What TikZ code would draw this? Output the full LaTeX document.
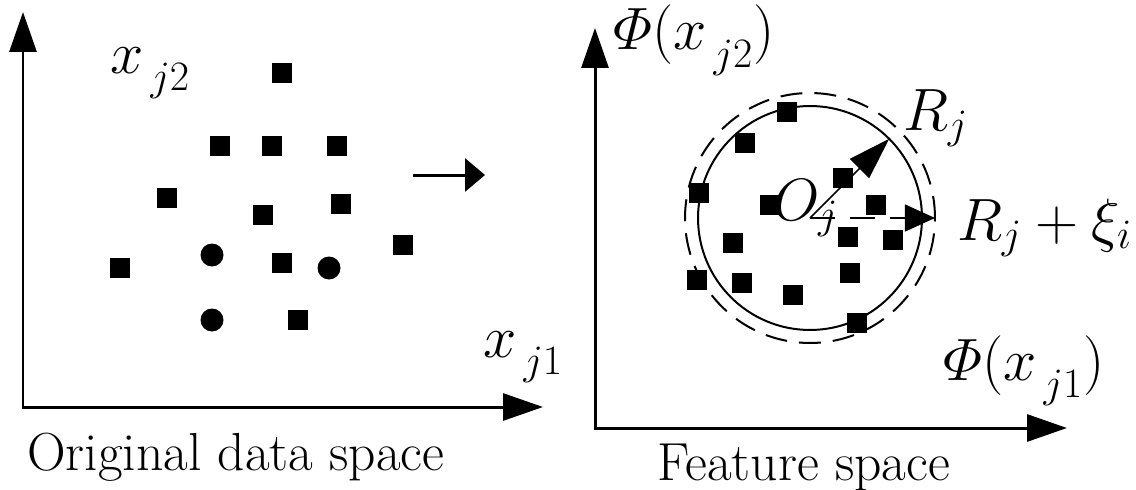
\documentclass[tikz,border=0pt]{standalone}
\usepackage{fix-cm}
\usepackage{amsmath}
\usepackage{fontspec}
\usepackage{tikz}
\usetikzlibrary{arrows.meta,shapes.geometric}

\begin{document}
\begin{tikzpicture}[
    x=0.02cm,
    y=-0.02cm,
    axis/.style={
        line width=0.06cm,
        {Triangle[length=0.8cm,width=0.54cm]}-{Triangle[length=0.8cm,width=0.54cm]}
    },
    sq/.style={
        fill=black,
        minimum size=0.4cm,
        inner sep=0pt,
        outer sep=0pt
    },
    dot/.style={
        circle,
        fill=black,
        minimum size=0.46cm,
        inner sep=0pt
    },
    lab/.style={
        font=\fontsize{34}{40}\selectfont,
        inner sep=0pt,
        anchor=base west
    },
    title/.style={
        font=\fontsize{30.5}{36}\selectfont,
        inner sep=0pt,
        anchor=base west
    },
    ring/.style={
        circle,
        draw=black,
        line width=0.04cm,
        inner sep=0pt,
        outer sep=0pt
    },
    arr/.style={line width=0.06cm, -{Triangle[length=0.4cm,width=0.66cm]}}
]
\useasboundingbox (0,0) rectangle (1136,490);

% left panel: original data space
\coordinate (lo) at (23,407);
\coordinate (ly) at (23,12);
\coordinate (lx) at (543,407);
\draw[axis] (ly) -- (lo) -- (lx);

\node[lab] (x2) at (110,73) {$x_{\,\lower5pt\hbox{$\scriptstyle j2$}}$};
\node[lab] (x1) at (483,357) {$x_{\,\lower5pt\hbox{$\scriptstyle j1$}}$};
\node[title] (orig) at (27,470) {Original data space};

\foreach \px/\py [count=\i] in {282/73, 220/146, 272/146, 337/146, 167/198,
    341/204, 263/215, 403/245, 120/268, 282/263, 298/320}
    \node[sq] (a\i) at (\px,\py) {};
\foreach \px/\py [count=\i] in {212/255, 329/268, 212/320}
    \node[dot] (c\i) at (\px,\py) {};

% mapping arrow
\coordinate (ma) at (413,175);
\coordinate (mb) at (485,175);
\draw[arr] (ma) -- (mb);

% right panel: feature space
\coordinate (ro) at (595,428);
\coordinate (ry) at (595,28);
\coordinate (rx) at (1067,428);
\draw[axis] (ry) -- (ro) -- (rx);

\node[lab] (phi2) at (613,50) {$\varPhi(x_{\,\lower5pt\hbox{$\scriptstyle j2$}})$};
\node[lab] (phi1) at (943,380) {$\varPhi(x_{\,\lower5pt\hbox{$\scriptstyle j1$}})$};
\node[title] (feat) at (657,480) {Feature space};

\coordinate (oj) at (810,218);
\node[ring, minimum size=4.48cm] (ball) at (oj) {};
\node[ring, dash pattern=on 0.44cm off 0.24cm, minimum size=5cm] (slack) at (oj) {};

\foreach \px/\py [count=\i] in {787/112, 745/143, 699/193, 770/205, 843/178,
    876/205, 733/243, 848/237, 893/240, 697/280, 742/283, 793/295,
    850/273, 857/323}
    \node[sq] (b\i) at (\px,\py) {};

\draw[line width=0.03cm, -{Triangle[length=0.84cm,width=0.54cm]}] (oj) -- (ball.45);
\draw[line width=0.03cm, dash pattern=on 0.5cm off 0.3cm,
    -{Triangle[length=0.6cm,width=0.54cm]}] (oj) -- (slack.0);

\node[lab] (oname) at (773,220) {$O_j$};
\node[lab] (rname) at (903,130) {$R_j$};
\node[lab] (rxi) at (957,240) {$R_j+\xi_i$};

\end{tikzpicture}
\end{document}
